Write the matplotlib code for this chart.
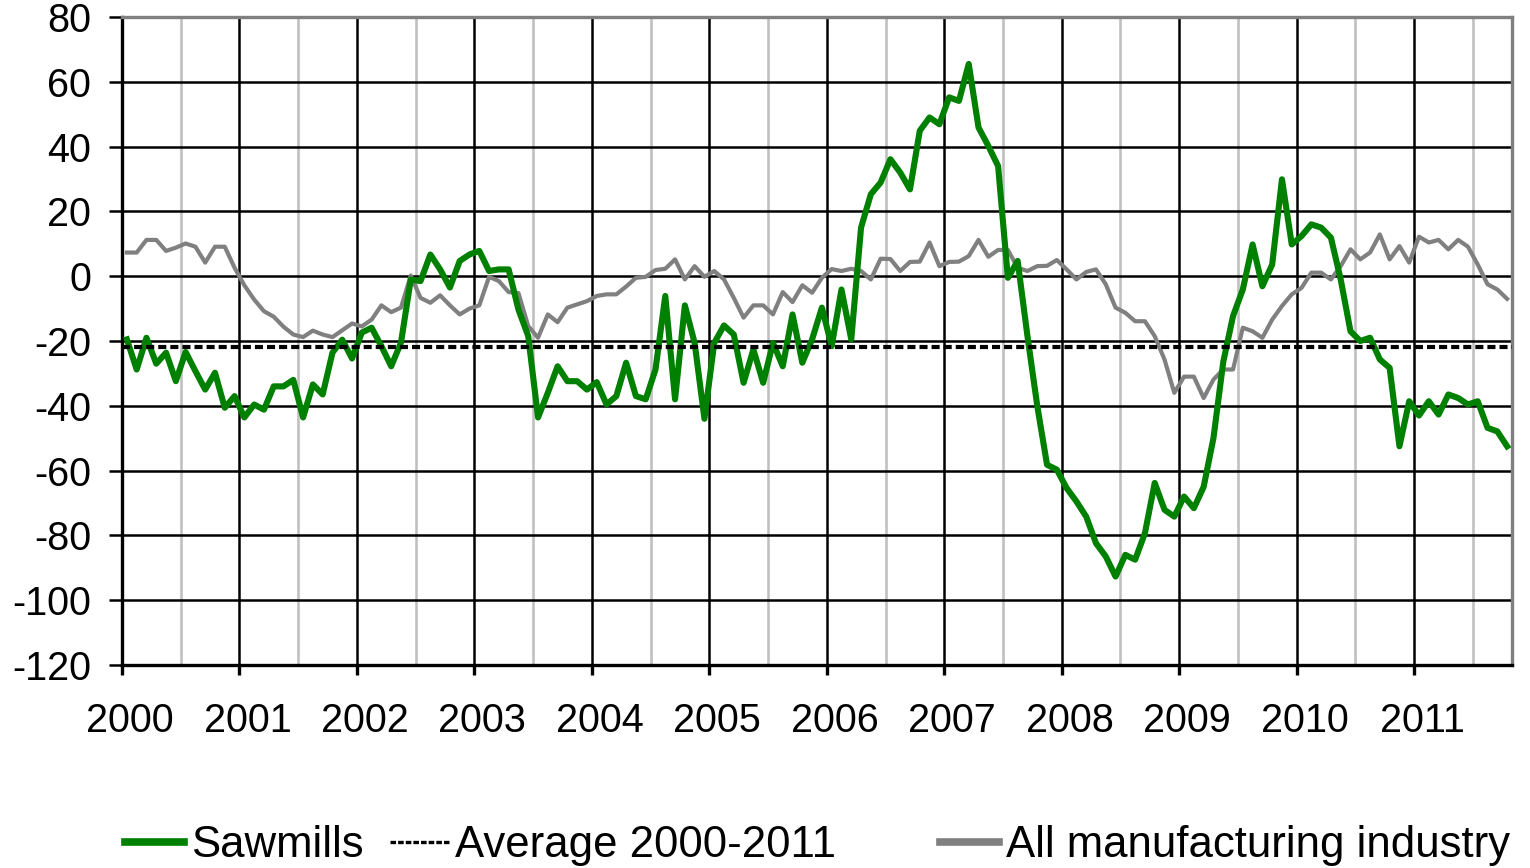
import numpy as np
import matplotlib
matplotlib.use('Agg')
import matplotlib.pyplot as plt
import matplotlib.transforms as mtransforms

plt.rcParams['font.family'] = ['Liberation Sans', 'DejaVu Sans']
plt.rcParams['lines.scale_dashes'] = False
plt.rcParams['axes.unicode_minus'] = False

# x axis: one category per month, Jan 2000 - Oct 2011
years = [str(y) for y in range(2000, 2012)]

# sawmills, monthly balance
sawmills = [
    -19.5, -28.8, -19, -27, -23.6, -32.4, -23.4, -29.3, -35, -29.8, -40.6, -37,        # 2000
    -43.6, -39.6, -41.2, -34, -34, -32, -43.6, -33.4, -36.5, -23.6, -19.6, -25.4,     # 2001
    -17.4, -15.9, -21.6, -27.8, -20.5, -1, -1.5, 6.7, 2.1, -3.5, 4.7, 6.7,            # 2002
    7.8, 1.6, 2.1, 2.1, -10.3, -18.5, -43.6, -36, -27.8, -32.4, -32.4, -35,           # 2003
    -32.7, -39.6, -37, -26.7, -37, -38, -28.8, -6.1, -38, -9, -20.6, -44,             # 2004
    -20.6, -15.2, -18, -32.9, -22.6, -32.9, -20.6, -27.8, -11.8, -26.7, -19.5, -9.7,  # 2005
    -21.6, -4.1, -19.5, 15, 25.3, 28.9, 36.1, 32, 26.8, 44.9, 49, 46.9,               # 2006
    55.2, 54.1, 65.5, 45.9, 40.2, 34, -0.5, 4.7, -18.5, -40, -58.2, -59.7,            # 2007
    -65.4, -69.5, -74.2, -82.4, -86.5, -92.7, -86, -87.5, -79.3, -63.8, -72.1, -74.2, # 2008
    -68, -71.6, -65, -50, -26.5, -12.3, -4.1, 9.8, -3.1, 3.6, 29.9, 9.8,              # 2009
    12.4, 16, 15, 11.9, -1, -17, -20, -19, -25.7, -28.3, -52.5, -38.6,                # 2010
    -43, -38.6, -42.7, -36.5, -37.6, -39.6, -38.6, -46.8, -47.9, -52.5,               # 2011
]

# all manufacturing industry
manufacturing = [
    7.3, 7.3, 11.2, 11.2, 7.8, 8.8, 10.1, 9.1, 4.2, 9.1, 9.1, 2.6,
    -2.8, -7.2, -10.8, -12.5, -15.6, -18, -18.8, -16.8, -18, -18.8, -16.7, -14.6,
    -15.5, -13.4, -9, -11.1, -9.7, 0.2, -6.7, -8.2, -5.9, -9, -11.8, -10,
    -9, -0.2, -1.5, -4.9, -5.2, -15.4, -19, -11.8, -14.2, -9.7, -8.7, -7.7,
    -6.1, -5.6, -5.6, -3.2, -0.5, -0.2, 1.9, 2.3, 5.2, -1, 3.1, -0.2,
    1.6, -1, -6.7, -12.8, -9, -9, -11.8, -4.9, -8, -2.8, -5.1, -0.5,
    2.2, 1.6, 2.3, 1.6, -1, 5.4, 5.3, 1.6, 4.4, 4.5, 10.4, 3.1,
    4.4, 4.5, 6.2, 11.2, 6, 8.1, 8.1, 2.6, 1.6, 3.1, 3.2, 5.0,
    2.1, -1, 1.3, 2.1, -2.5, -9.7, -11.3, -13.9, -13.9, -18.5, -25.7, -36,
    -31, -31, -37.6, -31.9, -28.8, -28.8, -15.9, -17, -19, -13.4, -9.2, -5.6,
    -3.6, 1.1, 1.1, -1, 3.1, 8.3, 5.2, 7.3, 12.9, 5.2, 9.3, 4.2,
    12.2, 10.4, 11.2, 8.3, 11.2, 9.1, 3.6, -2.5, -4.1, -7,
]

average = -21.7  # sawmills average 2000-2011

labels = ['Sawmills', 'Average 2000-2011', 'All manufacturing industry']

n = len(sawmills)
months = np.arange(n) + 0.5  # points sit between the monthly ticks

fig = plt.figure(figsize=(15.3, 8.68), dpi=100)
ax = fig.add_axes([122/1530, 1-665/868, (1512-122)/1530, (665-17)/868])

l_man, = ax.plot(months, manufacturing, color='#808080', lw=3, zorder=3)
l_saw, = ax.plot(months, sawmills, color='#008000', lw=4.4, zorder=4)
l_avg = ax.axhline(average, color='black', lw=3, dashes=(5.8, 2.9), zorder=5)

ax.set_xlim(0, n)
ax.set_ylim(-120, 80)
ax.set_yticks(range(-120, 81, 20))
ax.set_xticks(range(0, n, 12))
ax.set_xticklabels(years)
ax.set_xticks(range(6, n, 12), minor=True)

ax.set_axisbelow(True)
ax.yaxis.grid(True, color='black', lw=1.8)
ax.xaxis.grid(True, which='major', color='black', lw=1.8)
ax.xaxis.grid(True, which='minor', color='#c0c0c0', lw=1.9)

for s in ['left', 'bottom']:
    ax.spines[s].set_color('black')
    ax.spines[s].set_linewidth(2.4)
for s in ['top', 'right']:
    ax.spines[s].set_color('#808080')
    ax.spines[s].set_linewidth(2.4)

ax.tick_params(axis='y', length=9.4, width=1.8, pad=13, labelsize=28.5)
ax.tick_params(axis='x', which='major', length=7.5, width=2.4, pad=19, labelsize=28.5)
ax.tick_params(axis='x', which='minor', length=0)

# labels sit a bit right of the year tick
shift = mtransforms.ScaledTranslation(8/100, 0, fig.dpi_scale_trans)
for lab in ax.get_xticklabels():
    lab.set_transform(lab.get_transform() + shift)

# legend in two parts to get the uneven spacing of the original
kw = dict(frameon=False, fontsize=31.5, handlelength=1.35, handletextpad=0.15,
          borderpad=0, borderaxespad=0)
leg1 = fig.legend([l_saw, l_avg], labels[:2], loc='center left',
                  bbox_to_anchor=(125/1530, 0.026), ncol=2, columnspacing=0.6, **kw)
leg2 = fig.legend([l_man], labels[2:], loc='center left',
                  bbox_to_anchor=(940/1530, 0.026), **kw)
leg1.get_lines()[0].set_linewidth(5.5)
leg1.get_lines()[1].set_linewidth(2.4)
leg1.get_lines()[1].set_dashes((4, 1.5))
leg2.get_lines()[0].set_linewidth(5.5)

fig.savefig('out.png', dpi=100)
